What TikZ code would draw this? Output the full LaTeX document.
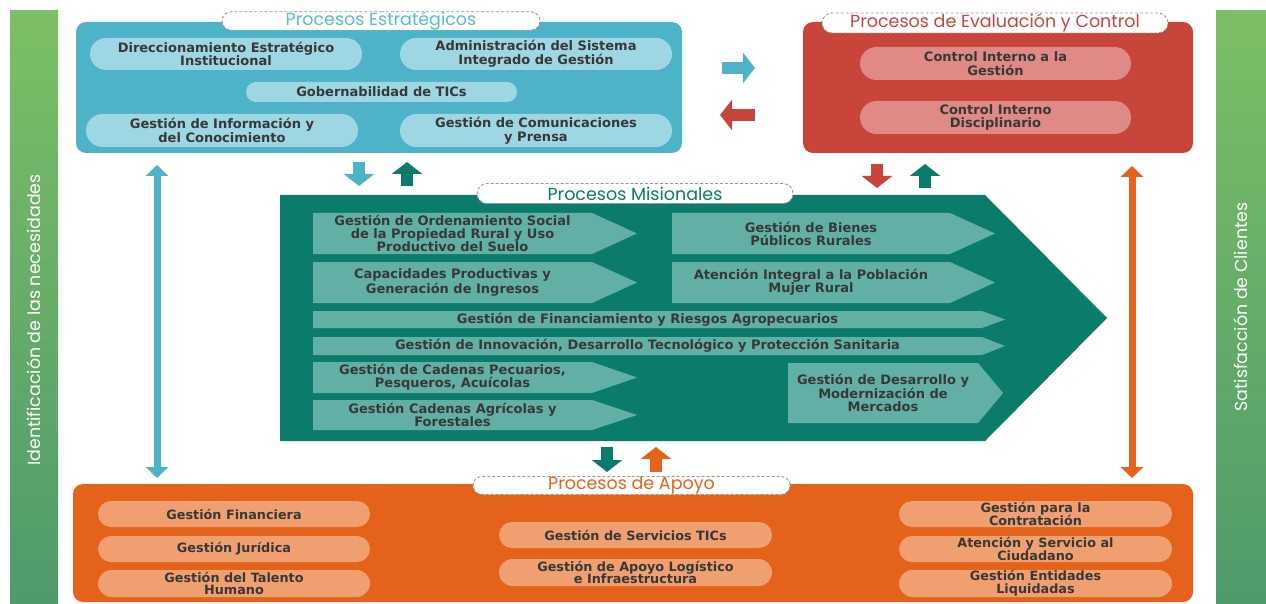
\documentclass[tikz,border=0pt]{standalone}
\usepackage{fontspec}
\setmainfont{Open Sans}
\newfontfamily\pillfont{DejaVu Sans}
\newfontfamily\titlefont{Poppins}
\usetikzlibrary{arrows.meta,shapes.misc}
\definecolor{cBlue}{HTML}{4CB3C8}
\definecolor{cBlueL}{HTML}{9FD6E3}
\definecolor{cBlueT}{HTML}{58BDD0}
\definecolor{cRed}{HTML}{C8453C}
\definecolor{cRedL}{HTML}{DF8A84}
\definecolor{cTeal}{HTML}{0B7C6B}
\definecolor{cTealL}{HTML}{62B0A5}
\definecolor{cOr}{HTML}{E5621A}
\definecolor{cOrL}{HTML}{F0A070}
\definecolor{cTxt}{HTML}{383838}
\definecolor{gTop}{HTML}{7CBF65}
\definecolor{gBot}{HTML}{4F9A6C}
\newcommand\chev[7]{%
  \fill[cTealL] (#2,#4) -- (#3,#4) -- (#5,{(#4+#6)/2}) -- (#3,#6) -- (#2,#6) -- cycle;
  \node[chevtxt] (#1) at ({(#2+#3)/2},{(#4+#6)/2}) {#7};}
\begin{document}
\begin{tikzpicture}[x=1pt,y=-1pt,
  pill/.style={shape=rounded rectangle, inner sep=0pt, align=center, text=cTxt,
    font=\pillfont\fontsize{13}{13.6}\selectfont\bfseries},
  bpill/.style={pill, fill=cBlueL},
  rpill/.style={pill, fill=cRedL, font=\pillfont\fontsize{13}{13.6}\selectfont\bfseries},
  opill/.style={pill, fill=cOrL, font=\pillfont\fontsize{12.8}{12.6}\selectfont\bfseries},
  chevtxt/.style={inner sep=0pt, align=center, text=cTxt,
    font=\pillfont\fontsize{13}{12.9}\selectfont\bfseries},
  tab/.style={shape=rounded rectangle, fill=white, draw=gray!80, densely dashed,
    line width=0.9pt, inner sep=0pt, font=\titlefont\fontsize{17.5}{18}\selectfont},
  sidetxt/.style={text=white, rotate=90, font=\titlefont\fontsize{17.4}{19}\selectfont},
  blockarr/.style={line width=12pt, -{Triangle[width=30pt,length=12pt]}},
  sidearr/.style={line width=7pt, {Triangle[width=22pt,length=11pt]}-{Triangle[width=22pt,length=11pt]}}
]
\useasboundingbox (0,0) rectangle (1266,604);
\fill[white] (0,0) rectangle (1266,604);

% side bars
\shade[top color=gTop, bottom color=gBot] (10,11) rectangle (58,604);
\shade[top color=gTop, bottom color=gBot] (1216,11) rectangle (1266,604);
\node[sidetxt] (ident) at (34,320) {Identificación de las necesidades};
\node[sidetxt] (satis) at (1241,307) {Satisfacción de Clientes};

% strategic
\fill[cBlue, rounded corners=10pt] (76,22) rectangle (682,153);
\node[tab, minimum width=318, minimum height=18, text=cBlueT] (testr) at (381,21) {Procesos Estratégicos};
\node[bpill, minimum width=272, minimum height=32] (dir) at (226,54) {Direccionamiento Estratégico\\Institucional};
\node[bpill, minimum width=272, minimum height=32] (adm) at (536,54) {Administración del Sistema\\Integrado de Gestión};
\node[bpill, minimum width=271, minimum height=20] (gob) at (381.5,92) {Gobernabilidad de TICs};
\node[bpill, minimum width=272, minimum height=33] (inf) at (222,130.5) {Gestión de Información y\\del Conocimiento};
\node[bpill, minimum width=272, minimum height=33] (com) at (536,130.5) {Gestión de Comunicaciones\\y Prensa};

% evaluation
\fill[cRed, rounded corners=10pt] (803,22) rectangle (1193,153);
\node[tab, minimum width=346, minimum height=20, text=cRed] (teval) at (995,23) {Procesos de Evaluación y Control};
\node[rpill, minimum width=271, minimum height=33] (cig) at (995.5,63.5) {Control Interno a la\\Gestión};
\node[rpill, minimum width=271, minimum height=33] (cid) at (995.5,117.5) {Control Interno\\Disciplinario};

% arrows between top boxes
\coordinate (ar1s) at (722,68); \coordinate (ar1e) at (755,68);
\coordinate (ar2s) at (755,115); \coordinate (ar2e) at (720,115);
\draw[blockarr, cBlue] (ar1s) -- (ar1e);
\draw[blockarr, cRed] (ar2s) -- (ar2e);

% arrows under top boxes
\coordinate (d1s) at (359,162); \coordinate (d1e) at (359,186);
\coordinate (u1s) at (407,186); \coordinate (u1e) at (407,162);
\coordinate (d2s) at (877,164); \coordinate (d2e) at (877,188);
\coordinate (u2s) at (925,188); \coordinate (u2e) at (925,164);
\draw[blockarr, cBlue] (d1s) -- (d1e);
\draw[blockarr, cTeal] (u1s) -- (u1e);
\draw[blockarr, cRed] (d2s) -- (d2e);
\draw[blockarr, cTeal] (u2s) -- (u2e);

% side double arrows
\coordinate (lv1) at (157,165); \coordinate (lv2) at (157,478);
\coordinate (rv1) at (1132,166); \coordinate (rv2) at (1132,478);
\draw[sidearr, cBlue] (lv1) -- (lv2);
\draw[sidearr, cOr] (rv1) -- (rv2);

% missional
\fill[cTeal] (280,195) -- (985,195) -- (1107,318) -- (985,441) -- (280,441) -- cycle;
\node[tab, minimum width=316, minimum height=20, text=cTeal] (tmis) at (635,193.5) {Procesos Misionales};
\chev{ord}{313}{592}{213}{637}{254}{Gestión de Ordenamiento Social\\de la Propiedad Rural y Uso\\Productivo del Suelo}
\chev{bien}{672}{950}{213}{995}{254}{Gestión de Bienes\\Públicos Rurales}
\chev{cap}{313}{592}{262}{637}{303}{Capacidades Productivas y\\Generación de Ingresos}
\chev{aten}{672}{950}{262}{995}{303}{Atención Integral a la Población\\Mujer Rural}
\chev{fin}{313}{982}{311}{1005}{328}{Gestión de Financiamiento y Riesgos Agropecuarios}
\chev{inn}{313}{982}{337}{1005}{355}{Gestión de Innovación, Desarrollo Tecnológico y Protección Sanitaria}
\chev{pec}{313}{592}{362}{637}{393}{Gestión de Cadenas Pecuarios,\\Pesqueros, Acuícolas}
\chev{agr}{313}{592}{400}{637}{430}{Gestión Cadenas Agrícolas y\\Forestales}
\chev{mer}{788}{978}{363}{1003}{423}{Gestión de Desarrollo y\\Modernización de\\Mercados}

% arrows under missional
\coordinate (d3s) at (607,447); \coordinate (d3e) at (607,472);
\coordinate (u3s) at (656,472); \coordinate (u3e) at (656,447);
\draw[blockarr, cTeal] (d3s) -- (d3e);
\draw[blockarr, cOr] (u3s) -- (u3e);

% support
\fill[cOr, rounded corners=10pt] (73,484) rectangle (1193,602);
\node[tab, minimum width=317, minimum height=18, text=cOr] (tapo) at (631.5,485.5) {Procesos de Apoyo};
\node[opill, minimum width=272, minimum height=26] (fina) at (234,514) {Gestión Financiera};
\node[opill, minimum width=272, minimum height=26] (jur) at (234,549) {Gestión Jurídica};
\node[opill, minimum width=272, minimum height=27] (tal) at (234,583.5) {Gestión del Talento\\Humano};
\node[opill, minimum width=273, minimum height=26] (tic) at (635.5,535) {Gestión de Servicios TICs};
\node[opill, minimum width=273, minimum height=27] (log) at (635.5,572.5) {Gestión de Apoyo Logístico\\e Infraestructura};
\node[opill, minimum width=273, minimum height=26] (con) at (1035.5,514) {Gestión para la\\Contratación};
\node[opill, minimum width=273, minimum height=26] (ciu) at (1035.5,549) {Atención y Servicio al\\Ciudadano};
\node[opill, minimum width=273, minimum height=27] (liq) at (1035.5,583.5) {Gestión Entidades\\Liquidadas};
\end{tikzpicture}
\end{document}
